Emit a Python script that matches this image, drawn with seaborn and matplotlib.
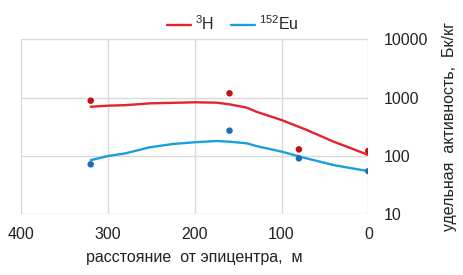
import matplotlib
matplotlib.use("Agg")
import matplotlib.pyplot as plt
import seaborn as sns
import pandas as pd

# измеренные точки
dist_pts = [320, 160, 80, 0]
h3_pts = [890, 1190, 130, 122]
eu_pts = [72, 272, 91, 55]

# линии тренда
trend_x = [320, 300, 280, 252, 225, 200, 175, 160, 140, 129, 100, 71, 40, 20, 0]
h3_trend = [700, 730, 745, 800, 817, 834, 822, 770, 675, 575, 414, 280, 176, 136, 104]
eu_trend = [85, 100, 111, 141, 161, 172, 181, 176, 165, 148, 119, 91, 70, 62, 55]

labels = [r"$\mathregular{^{3}H}$", r"$\mathregular{^{152}Eu}$"]
line_colors = ["#e3242b", "#1a9ee0"]
dot_colors = ["#c0101a", "#1f6cb4"]

sns.set_theme(style="white")
plt.rcParams["font.family"] = ["Liberation Sans", "DejaVu Sans"]
plt.rcParams["mathtext.fontset"] = "custom"
plt.rcParams["mathtext.rm"] = "Liberation Sans"

pts = pd.DataFrame({"x": dist_pts * 2, "y": h3_pts + eu_pts,
                    "s": [labels[0]] * 4 + [labels[1]] * 4})
trend = pd.DataFrame({"x": trend_x * 2, "y": h3_trend + eu_trend,
                      "s": [labels[0]] * len(trend_x) + [labels[1]] * len(trend_x)})

fig = plt.figure(figsize=(4.63, 2.75), dpi=100)
ax = fig.add_axes([0.046, 0.2207, 0.7495, 0.636])

sns.lineplot(data=trend, x="x", y="y", hue="s", palette=line_colors,
             linewidth=1.7, ax=ax, sort=False, legend=True)
sns.scatterplot(data=pts, x="x", y="y", hue="s", palette=dot_colors,
                s=22, edgecolor="none", ax=ax, legend=False, zorder=3)

ax.set_yscale("log")
ax.set_ylim(10, 10000)
ax.set_xlim(400, 0)
ax.set_xticks([400, 300, 200, 100, 0])
ax.set_yticks([10, 100, 1000, 10000])
ax.set_yticklabels(["10", "100", "1000", "10000"])
ax.minorticks_off()
ax.grid(True, color="#d9d9d9", linewidth=1)
for sp in ax.spines.values():
    sp.set_visible(False)

ax.yaxis.tick_right()
ax.yaxis.set_label_position("right")
ax.tick_params(axis="both", length=0, labelsize=11.5, colors="#222222")
ax.tick_params(axis="y", pad=11)
ax.tick_params(axis="x", pad=9)

ax.set_xlabel("расстояние  от эпицентра,  м", fontsize=11.5, color="#222222", labelpad=6)
ax.set_ylabel("удельная  активность,  Бк/кг", fontsize=11.5, color="#222222", labelpad=10)

handles, _ = ax.get_legend_handles_labels()
ax.get_legend().remove()
fig.legend(handles, labels, loc="center", bbox_to_anchor=(0.503, 0.913), ncol=2,
           frameon=False, fontsize=11.5, handlelength=1.5, columnspacing=1.1,
           handletextpad=0.25)

fig.savefig("out.png", dpi=100)
